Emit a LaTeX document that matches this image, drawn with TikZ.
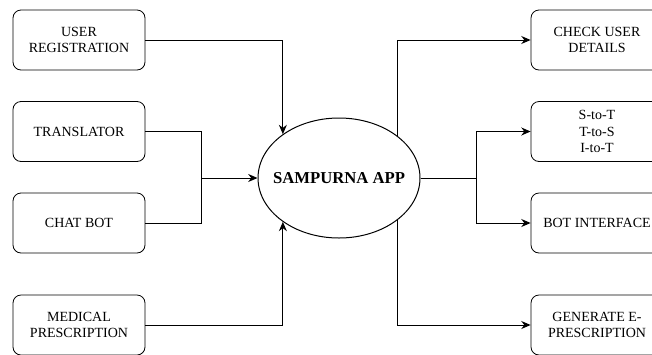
\documentclass[tikz,border=0pt]{standalone}
\usepackage{fontspec}
\setmainfont{Liberation Serif}
\usetikzlibrary{arrows.meta,shapes.geometric}

\tikzset{
  box/.style={draw, rounded corners=6pt, minimum width=99pt, minimum height=45pt,
    align=center, font=\fontsize{10.5}{12.5}\selectfont, line width=0.6pt},
  link/.style={draw, line width=0.75pt},
  linkto/.style={link, -{Stealth[length=7pt,width=6pt]}}
}

\begin{document}
\begin{tikzpicture}[x=0.75pt,y=-0.75pt]

        \useasboundingbox (0,0) rectangle (652,354);

        \begin{scope}[every node/.style={box}]
          \node (ureg)  at (79,40)   {USER\\REGISTRATION};
          \node (trans) at (79,131.5) {TRANSLATOR};
          \node (chat)  at (79,223)  {CHAT BOT};
          \node (med)   at (79,325)  {MEDICAL\\PRESCRIPTION};
          \node (check) at (597,40)  {CHECK USER\\DETAILS};
          \node (conv)  at (597,131.5) {S-to-T\\T-to-S\\I-to-T};
          \node (botif) at (597,223) {BOT INTERFACE};
          \node (epres) at (597,325) {GENERATE E-\\PRESCRIPTION};
        \end{scope}

        \node (app) at (339,178) [draw, ellipse, line width=0.75pt, inner sep=0pt,
          minimum width=121.5pt, minimum height=90pt,
          font=\fontsize{12.5}{14}\selectfont\bfseries] {\makebox[0pt]{SAMPURNA APP}};

        \coordinate (join)  at (201,178);
        \coordinate (split) at (476,178);

        \begin{scope}
          \path[linkto] (ureg.east) -| (app.142);
          \path[link]   (trans.east) -| (join);
          \path[link]   (chat.east) -| (join);
          \path[linkto] (join) -- (app.west);
          \path[linkto] (med.east) -| (app.-142);

          \path[linkto] (app.36) |- (check.west);
          \path[link]   (app.east) -- (split);
          \path[linkto] (split) |- (conv.west);
          \path[linkto] (split) |- (botif.west);
          \path[linkto] (app.-36) |- (epres.west);
        \end{scope}

      \end{tikzpicture}
\end{document}
